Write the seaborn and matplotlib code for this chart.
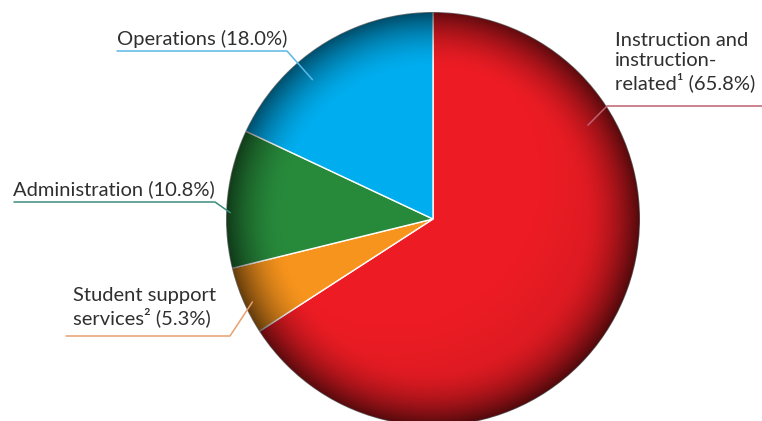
import numpy as np
import matplotlib
matplotlib.use("Agg")
import matplotlib.pyplot as plt
import seaborn as sns
from matplotlib.patches import Circle

categories = ["Instruction and\ninstruction-\nrelated¹ (65.8%)",
              "Student support\nservices² (5.3%)",
              "Administration (10.8%)",
              "Operations (18.0%)"]
values = [65.8, 5.3, 10.8, 18.0]
colors = ["#ED1C24", "#F7941D", "#278A3B", "#00AEEF"]
line_colors = ["#C06070", "#E8A070", "#3E8C80", "#5BB8E8"]

sns.set_theme(style="white")
plt.rcParams['font.family'] = ['Lato', 'DejaVu Sans']

fig = plt.figure(figsize=(7.62, 4.21), dpi=100)
ax = fig.add_axes([0, 0, 1, 1])

cx, cy, R = 433, 202, 207
wedges, _ = ax.pie(values, colors=colors, startangle=90, counterclock=False,
                   center=(cx, cy), radius=R, frame=True,
                   wedgeprops=dict(edgecolor="white", linewidth=1.0))
ax.set_xlim(0, 762)
ax.set_ylim(0, 421)
ax.set_aspect('equal')
ax.axis('off')

# 3D-like shading overlay
n = 400
xs = np.linspace(-1, 1, n)
X, Y = np.meshgrid(xs, xs[::-1])
D = np.sqrt((X + 0.2) ** 2 + (Y - 0.2) ** 2)
rr = np.sqrt(X ** 2 + Y ** 2)
alpha = np.clip((rr - 0.72) / 0.28, 0, 1) ** 1.8 * 0.55 + np.clip(D - 0.7, 0, 1) * 0.2
rgba = np.zeros((n, n, 4))
rgba[..., 3] = np.clip(alpha, 0, 0.72)
im = ax.imshow(rgba, extent=(cx - R, cx + R, cy - R, cy + R), zorder=3, interpolation='bilinear')
clip = Circle((cx, cy), R, transform=ax.transData)
im.set_clip_path(clip)

# label layout: text position, underline, leader anchor inside wedge
label_layout = [
    dict(tx=615, ty=389, uy=315, ux0=607, ux1=762, side='right', rf=0.875, af=0.752),
    dict(tx=73, ty=134, uy=85, ux0=66, ux1=230, side='left', rf=0.96, af=0.57),
    dict(tx=13, ty=241, uy=219, ux0=14, ux1=215, side='left', rf=0.98, af=0.6),
    dict(tx=117, ty=391, uy=370, ux0=117, ux1=287, side='left', rf=0.89, af=0.63),
]
for w, lab, lay, lc in zip(wedges, categories, label_layout, line_colors):
    t1, t2 = w.theta1, w.theta2
    ang = np.deg2rad(t1 + (t2 - t1) * lay['af'])
    ex = cx + lay['rf'] * R * np.cos(ang)
    ey = cy + lay['rf'] * R * np.sin(ang)
    ax.text(lay['tx'], lay['ty'], lab, ha='left', va='top', fontsize=14.5,
            color="#2f2f2f", linespacing=1.2, zorder=5)
    if lay['side'] == 'left':
        ax.plot([lay['ux0'], lay['ux1'], ex], [lay['uy'], lay['uy'], ey],
                color=lc, lw=1.1, zorder=6)
    else:
        ax.plot([lay['ux1'], lay['ux0'], ex], [lay['uy'], lay['uy'], ey],
                color=lc, lw=1.1, zorder=6)

fig.savefig("out.png", dpi=100)
